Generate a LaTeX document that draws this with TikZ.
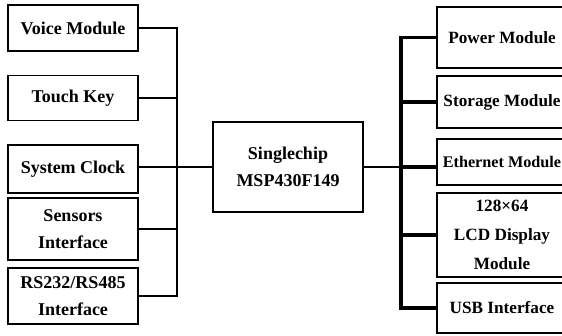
\documentclass[tikz,border=0pt]{standalone}
\usepackage{fontspec}
\setmainfont{Liberation Serif}
\begin{document}
\begin{tikzpicture}[x=1pt,y=-1pt,
  box/.style={draw=black, line width=1.8pt, rectangle, inner sep=0pt, align=center,
    font=\fontsize{18}{27}\selectfont\bfseries},
  lbox/.style={box, minimum width=130pt},
  rbox/.style={box, line width=2.6pt, minimum width=130pt, font=\fontsize{17.2}{29}\selectfont\bfseries},
  thin/.style={line width=1.8pt},
  thick/.style={line width=3.2pt}]
\clip (0,0) rectangle (562,336);
\fill[white] (0,0) rectangle (562,336);
% left
\node[lbox, minimum height=46pt] (voice) at (73,28) {Voice Module};
\node[lbox, minimum height=45pt] (touch) at (73,98) {Touch Key};
\node[lbox, minimum height=48pt] (clock) at (73,169) {System Clock};
\node[lbox, minimum height=62pt] (sens) at (73,229) {Sensors\\Interface};
\node[lbox, minimum height=56pt] (rs) at (73,296) {RS232/RS485\\Interface};
% centre
\node[box, minimum width=150pt, minimum height=90pt] (mcu) at (288,167) {Singlechip\\MSP430F149};
% right
\node[rbox, minimum height=61pt] (pow) at (502,37.5) {Power Module};
\node[rbox, minimum height=52pt] (sto) at (502,102) {Storage Module};
\node[rbox, minimum height=46pt, font=\fontsize{16.2}{29}\selectfont\bfseries] (eth) at (502,162) {Ethernet Module};
\node[rbox, minimum height=84pt] (lcd) at (502,235) {128×64\\LCD Display\\Module};
\node[rbox, minimum height=50pt] (usb) at (502,308) {USB Interface};
% left bus
\coordinate (lt) at (177,28);
\coordinate (lb) at (177,296);
\draw[thin] (voice.east) -- (voice.east -| lt) -- (rs.east -| lb) -- (rs.east);
\draw[thin] (touch.east) -- (touch.east -| lt);
\draw[thin] (sens.east) -- (sens.east -| lt);
\draw[thin] (mcu.west -| clock.east) -- (mcu.west);
% right bus
\coordinate (rt) at (401,37.5);
\draw[thick] (pow.west) -- (pow.west -| rt) -- (usb.west -| rt) -- (usb.west);
\draw[thick] (sto.west) -- (sto.west -| rt);
\draw[thick] (lcd.west) -- (lcd.west -| rt);
\draw[thin] (mcu.east) -- (mcu.east -| rt);
\draw[thick] (mcu.east -| rt) -- (mcu.east -| eth.west);
\end{tikzpicture}
\end{document}
